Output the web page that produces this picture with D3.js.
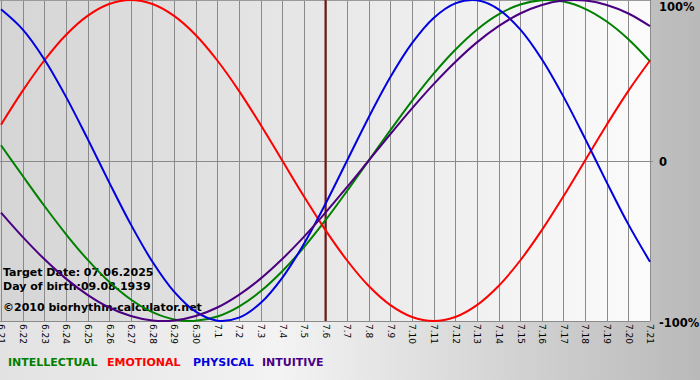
<!DOCTYPE html>
<html><head><meta charset="utf-8">
<script src="https://cdn.jsdelivr.net/npm/d3@7"></script>
<style>body{margin:0;padding:0;overflow:hidden;}svg{display:block;}</style>
</head><body>
<svg id="chart" width="700" height="380"></svg>
<script>
const dates = ["6.21","6.22","6.23","6.24","6.25","6.26","6.27","6.28","6.29","6.30","7.1","7.2","7.3","7.4","7.5","7.6","7.7","7.8","7.9","7.10","7.11","7.12","7.13","7.14","7.15","7.16","7.17","7.18","7.19","7.20","7.21"];
const intellectual = [0.095,-0.095,-0.282,-0.458,-0.618,-0.756,-0.866,-0.945,-0.990,-0.999,-0.972,-0.910,-0.815,-0.690,-0.541,-0.372,-0.189,0.000,0.189,0.372,0.541,0.690,0.815,0.910,0.972,0.999,0.990,0.945,0.866,0.756,0.618];
const emotional = [0.223,0.434,0.623,0.782,0.901,0.975,1.000,0.975,0.901,0.782,0.623,0.434,0.223,0.000,-0.223,-0.434,-0.623,-0.782,-0.901,-0.975,-1.000,-0.975,-0.901,-0.782,-0.623,-0.434,-0.223,0.000,0.223,0.434,0.623];
const physical = [0.942,0.817,0.631,0.398,0.136,-0.136,-0.398,-0.631,-0.817,-0.942,-0.998,-0.979,-0.888,-0.731,-0.520,-0.270,0.000,0.270,0.520,0.731,0.888,0.979,0.998,0.942,0.817,0.631,0.398,0.136,-0.136,-0.398,-0.631];
const intuitive = [-0.325,-0.476,-0.614,-0.736,-0.837,-0.916,-0.969,-0.997,-0.997,-0.969,-0.916,-0.837,-0.736,-0.614,-0.476,-0.325,-0.165,0.000,0.165,0.325,0.476,0.614,0.736,0.837,0.916,0.969,0.997,0.997,0.969,0.916,0.837];
const yTickValues = [1, 0, -1];
const yTickLabels = ["100%", "0", "-100%"];
const targetIndex = 15;
const infoLines = ["Target Date: 07.06.2025", "Day of birth:09.08.1939", "\u00a92010 biorhythm-calculator.net"];
const legendNames = ["INTELLECTUAL", "EMOTIONAL", "PHYSICAL", "INTUITIVE"];

const series = [
  {name: legendNames[0], values: intellectual, color: "#008000"},
  {name: legendNames[1], values: emotional, color: "#ff0000"},
  {name: legendNames[2], values: physical, color: "#0000e0"},
  {name: legendNames[3], values: intuitive, color: "#4b0082"}
];

const svg = d3.select("#chart");
const W = 700, H = 380;
const plotLeft = 1, plotRight = 650, plotTop = 0, plotBottom = 321;

const defs = svg.append("defs");
const bgGrad = defs.append("linearGradient").attr("id","bgGrad").attr("x1","0").attr("x2","1").attr("y1","0").attr("y2","0");
bgGrad.append("stop").attr("offset","0%").attr("stop-color","#e2e2e2");
bgGrad.append("stop").attr("offset","40%").attr("stop-color","#f3f3f3");
bgGrad.append("stop").attr("offset","100%").attr("stop-color","#b9b9b9");
const plotGrad = defs.append("linearGradient").attr("id","plotGrad").attr("x1","0").attr("x2","1").attr("y1","0").attr("y2","0");
plotGrad.append("stop").attr("offset","0%").attr("stop-color","#d5d5d5");
plotGrad.append("stop").attr("offset","100%").attr("stop-color","#fbfbfb");

svg.append("rect").attr("width",W).attr("height",H).attr("fill","url(#bgGrad)");

const x = d3.scaleLinear().domain([0, dates.length-1]).range([plotLeft, plotRight]);
const y = d3.scaleLinear().domain([-1, 1]).range([plotBottom, plotTop]);

svg.append("rect").attr("x",0).attr("y",plotTop).attr("width",plotRight).attr("height",plotBottom-plotTop).attr("fill","url(#plotGrad)");

// vertical grid lines
svg.append("g").selectAll("line").data(dates).join("line")
  .attr("x1",(d,i)=>Math.round(x(i))+0.5).attr("x2",(d,i)=>Math.round(x(i))+0.5)
  .attr("y1",plotTop).attr("y2",plotBottom)
  .attr("stroke","#8a8a8a").attr("stroke-width",1);

// zero line & borders
svg.append("line").attr("x1",0).attr("x2",plotRight+3).attr("y1",Math.round(y(0))+0.5).attr("y2",Math.round(y(0))+0.5).attr("stroke","#8a8a8a");
svg.append("line").attr("x1",0).attr("x2",plotRight).attr("y1",plotBottom+0.5).attr("y2",plotBottom+0.5).attr("stroke","#8a8a8a");
svg.append("line").attr("x1",0).attr("x2",plotRight).attr("y1",0.5).attr("y2",0.5).attr("stroke","#9a9a9a");

// x axis labels
const xAxis = d3.axisBottom(x).tickValues(d3.range(dates.length)).tickFormat(i=>dates[i]).tickSize(0).tickPadding(0);
const gx = svg.append("g").attr("transform",`translate(0,${plotBottom})`).call(xAxis);
gx.select(".domain").remove();
gx.selectAll("text")
  .attr("transform","rotate(90)")
  .attr("x",3).attr("y",0).attr("dy","0.35em")
  .attr("text-anchor","start")
  .attr("font-family","DejaVu Sans").attr("font-size","9px").attr("fill","#000");

// y labels
const yLabelY = [11, 166, 327];
svg.append("g").selectAll("text").data(yTickValues).join("text")
  .attr("x",659)
  .attr("y",(d,i)=> i===0 ? yLabelY[0] : (i===1 ? y(d)+5.5 : y(d)+6))
  .attr("font-family","DejaVu Sans").attr("font-weight","bold").attr("font-size","11.5px").attr("fill","#000")
  .text((d,i)=>yTickLabels[i]);

// info text
const infoY = [276, 290, 311];
svg.append("g").selectAll("text").data(infoLines).join("text")
  .attr("x",3).attr("y",(d,i)=>infoY[i])
  .attr("font-family","DejaVu Sans").attr("font-weight","bold").attr("font-size","11px").attr("fill","#000")
  .text(d=>d);

// target marker
svg.append("line").attr("x1",x(targetIndex)).attr("x2",x(targetIndex)).attr("y1",plotTop).attr("y2",plotBottom)
  .attr("stroke","#7a1010").attr("stroke-width",2);

// curves
const line = d3.line().x((d,i)=>x(i)).y(d=>y(d)).curve(d3.curveCatmullRom.alpha(0.5));
svg.append("g").selectAll("path").data(series).join("path")
  .attr("d",d=>line(d.values)).attr("fill","none")
  .attr("stroke",d=>d.color).attr("stroke-width",2);

// legend
const legendX = [8, 107, 193, 262];
svg.append("g").selectAll("text").data(series).join("text")
  .attr("x",(d,i)=>legendX[i]).attr("y",366)
  .attr("font-family","DejaVu Sans").attr("font-weight","bold").attr("font-size","11px")
  .attr("fill",d=>d.color).text(d=>d.name);
</script>
</body></html>
